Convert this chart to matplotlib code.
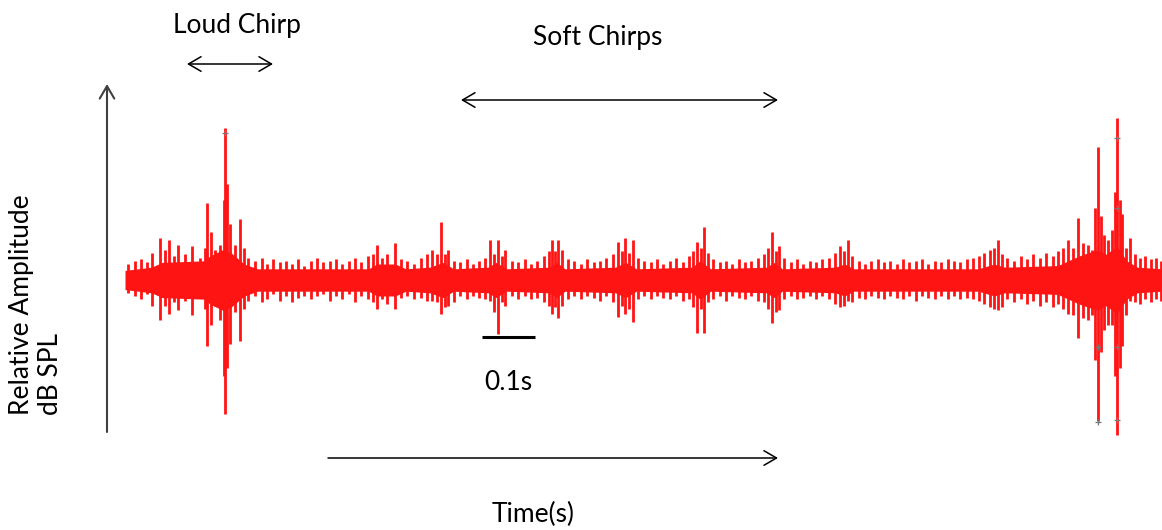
import numpy as np
import matplotlib
matplotlib.use("Agg")
import matplotlib.pyplot as plt

plt.rcParams['font.family'] = ['Lato', 'DejaVu Sans']

# waveform: time in ms, amplitude relative (1.0 = biggest peak)
spike_t = [5, 18, 30, 42, 51,
           66, 75, 83, 92, 100, 113, 126, 142, 150, 155, 162, 170, 180, 186, 189, 193, 198, 208, 217, 224, 232,
           245, 258, 268, 280, 292, 303, 315, 327, 338, 350, 362, 374, 386, 398, 410, 422, 434, 446, 458,
           467, 475, 485, 494, 509, 520, 533, 545, 558, 569,
           579, 589, 596, 603, 609, 620, 632, 645, 657, 668, 680,
           689, 697, 704, 711, 717, 730, 742, 754, 766, 778, 790,
           800, 806, 812, 817, 825, 835, 848, 860, 872, 884, 896, 908, 920,
           930, 937, 943, 950, 958, 968, 980, 992, 1004, 1016, 1028, 1040, 1052, 1064,
           1072, 1079, 1086, 1092, 1100, 1110, 1122, 1134, 1146, 1158, 1170, 1182, 1194, 1206,
           1214, 1221, 1228, 1234, 1244, 1256, 1268, 1280, 1292, 1304, 1316, 1328, 1340,
           1349, 1356, 1364, 1372, 1384, 1396, 1408, 1420, 1432, 1444, 1456, 1468, 1480, 1492, 1504, 1516,
           1528, 1540, 1552, 1564, 1576, 1588, 1600, 1612,
           1620, 1632, 1640, 1647, 1655, 1665, 1678, 1690, 1702, 1714, 1726, 1738, 1750, 1760, 1770,
           1779, 1788, 1798, 1808, 1817, 1825, 1831, 1836, 1841, 1847, 1855, 1862, 1868, 1872, 1877, 1881,
           1888, 1896, 1905, 1915, 1925, 1935, 1945, 1955]
spike_up = [0.10, 0.12, 0.13, 0.11, 0.17,
            0.26, 0.19, 0.25, 0.15, 0.22, 0.16, 0.21, 0.14, 0.20, 0.48, 0.30, 0.19, 0.22, 0.50, 0.95, 0.60, 0.35, 0.22, 0.38, 0.20, 0.14,
            0.12, 0.14, 0.10, 0.13, 0.11, 0.12, 0.10, 0.13, 0.09, 0.12, 0.14, 0.11, 0.12, 0.13, 0.10, 0.12, 0.14, 0.11, 0.15,
            0.16, 0.22, 0.14, 0.16, 0.23, 0.13, 0.12, 0.10, 0.14, 0.16,
            0.19, 0.16, 0.36, 0.16, 0.19, 0.12, 0.11, 0.13, 0.10, 0.12, 0.14,
            0.25, 0.16, 0.25, 0.15, 0.19, 0.12, 0.11, 0.13, 0.10, 0.12, 0.15,
            0.18, 0.25, 0.18, 0.25, 0.19, 0.13, 0.12, 0.10, 0.13, 0.11, 0.12, 0.14, 0.16,
            0.24, 0.18, 0.26, 0.17, 0.25, 0.14, 0.12, 0.11, 0.13, 0.10, 0.12, 0.14, 0.11, 0.15,
            0.18, 0.24, 0.20, 0.33, 0.17, 0.13, 0.11, 0.12, 0.10, 0.13, 0.11, 0.12, 0.14, 0.16,
            0.20, 0.30, 0.18, 0.21, 0.14, 0.11, 0.13, 0.10, 0.12, 0.11, 0.13, 0.14, 0.17,
            0.21, 0.18, 0.25, 0.15, 0.12, 0.10, 0.12, 0.13, 0.11, 0.12, 0.10, 0.13, 0.11, 0.12, 0.13, 0.10,
            0.12, 0.11, 0.13, 0.12, 0.11, 0.13, 0.14, 0.15,
            0.17, 0.19, 0.20, 0.25, 0.16, 0.14, 0.12, 0.15, 0.13, 0.16, 0.14, 0.17, 0.15, 0.18, 0.20,
            0.25, 0.20, 0.39, 0.23, 0.22, 0.19, 0.45, 0.83, 0.40, 0.28, 0.25, 0.31, 0.55, 1.01, 0.50, 0.41,
            0.20, 0.26, 0.16, 0.14, 0.15, 0.13, 0.14, 0.12]
spike_down = [0.08, 0.10, 0.12, 0.09, 0.16,
              0.25, 0.16, 0.21, 0.14, 0.19, 0.13, 0.22, 0.11, 0.18, 0.41, 0.28, 0.16, 0.25, 0.60, 0.84, 0.55, 0.40, 0.20, 0.38, 0.18, 0.13,
              0.10, 0.14, 0.12, 0.09, 0.13, 0.10, 0.14, 0.11, 0.10, 0.12, 0.10, 0.09, 0.13, 0.10, 0.12, 0.09, 0.14, 0.10, 0.12,
              0.14, 0.18, 0.12, 0.15, 0.18, 0.11, 0.10, 0.12, 0.11, 0.13,
              0.13, 0.14, 0.21, 0.17, 0.16, 0.14, 0.10, 0.12, 0.10, 0.11, 0.12,
              0.13, 0.20, 0.34, 0.14, 0.16, 0.10, 0.12, 0.10, 0.12, 0.11, 0.14,
              0.16, 0.21, 0.17, 0.24, 0.16, 0.12, 0.10, 0.12, 0.10, 0.11, 0.13, 0.10, 0.14,
              0.23, 0.16, 0.21, 0.18, 0.26, 0.12, 0.10, 0.12, 0.10, 0.11, 0.12, 0.10, 0.13, 0.12,
              0.17, 0.33, 0.18, 0.33, 0.14, 0.12, 0.10, 0.13, 0.10, 0.11, 0.12, 0.10, 0.13, 0.14,
              0.18, 0.27, 0.20, 0.19, 0.12, 0.10, 0.12, 0.11, 0.10, 0.12, 0.10, 0.12, 0.15,
              0.17, 0.16, 0.13, 0.14, 0.11, 0.12, 0.10, 0.11, 0.12, 0.10, 0.11, 0.12, 0.10, 0.13, 0.10, 0.11,
              0.12, 0.10, 0.12, 0.10, 0.12, 0.11, 0.12, 0.13,
              0.15, 0.17, 0.18, 0.19, 0.17, 0.12, 0.14, 0.12, 0.15, 0.13, 0.16, 0.14, 0.17, 0.15, 0.18,
              0.21, 0.22, 0.36, 0.24, 0.25, 0.22, 0.50, 0.88, 0.45, 0.31, 0.28, 0.28, 0.60, 0.97, 0.55, 0.41,
              0.22, 0.13, 0.14, 0.15, 0.12, 0.14, 0.12, 0.13]

# dense core of the trace (half width)
core_t = [0, 50, 70, 150, 160, 185, 200, 225, 250, 460, 475, 510, 530, 575, 600, 620, 685, 700, 720,
          800, 815, 830, 925, 945, 965, 1070, 1085, 1105, 1210, 1225, 1240, 1340, 1358, 1375,
          1610, 1640, 1660, 1760, 1780, 1800, 1835, 1850, 1872, 1890, 1910, 1957]
core_half = [0.06, 0.08, 0.11, 0.12, 0.15, 0.19, 0.17, 0.10, 0.07, 0.07, 0.10, 0.10, 0.07, 0.08, 0.11, 0.07, 0.08, 0.11, 0.07,
             0.08, 0.11, 0.07, 0.08, 0.11, 0.07, 0.08, 0.12, 0.07, 0.08, 0.11, 0.07, 0.08, 0.10, 0.07,
             0.07, 0.10, 0.08, 0.09, 0.12, 0.15, 0.19, 0.16, 0.21, 0.12, 0.08, 0.07]

# grey "+" cursor marks on the big peaks
mark_t = [189, 1836, 1836, 1872, 1872, 1872, 1872]
mark_amp = [0.92, -0.42, -0.89, 0.89, 0.45, -0.42, -0.875]

scale_bar_start = 674  # ms
scale_bar_len = 100    # ms = 0.1 s

fig = plt.figure(figsize=(11.62, 5.30), dpi=100)

# annotation layer in pixel coords
ov = fig.add_axes([0, 0, 1, 1])
ov.set_xlim(0, 1162)
ov.set_ylim(530, 0)
ov.axis('off')

# waveform axes
ax = fig.add_axes([125 / 1162, 70 / 530, 1037 / 1162, 360 / 530])
ax.set_xlim(0, 1956.6)
ax.set_ylim(-1.125, 1.125)
ax.axis('off')

red = '#ff1414'
ax.fill_between(core_t, [-v for v in core_half], core_half, color=red, lw=0)
ax.vlines(spike_t, [-v for v in spike_down], spike_up, color=red, lw=2.0)
ax.plot(mark_t, mark_amp, '+', color='#777777', ms=5, mew=0.9)

# scale bar
ax.plot([scale_bar_start, scale_bar_start + scale_bar_len], [-0.356, -0.356], color='black', lw=2.2,
        solid_capstyle='butt')

txt = dict(fontsize=19, color='black', ha='center', va='center')
ov.text(237, 25, 'Loud Chirp', **txt)
ov.text(598, 38, 'Soft Chirps', **txt)
ov.text(508, 383, '0.1s', **txt)
ov.text(533, 514, 'Time(s)', **txt)
ov.text(22, 415, 'Relative Amplitude', rotation=90, fontsize=19, ha='center', va='bottom')
ov.text(51, 415, 'dB SPL', rotation=90, fontsize=19, ha='center', va='bottom')


def arrow(x0, y0, x1, y1, style='->', color='black', lw=1.1):
    ov.annotate('', xy=(x1, y1), xytext=(x0, y0),
                arrowprops=dict(arrowstyle=f'{style},head_length=0.6,head_width=0.35',
                                color=color, lw=lw, shrinkA=0, shrinkB=0, mutation_scale=15))


arrow(187, 64, 273, 64, '<->')
arrow(461, 100, 778, 100, '<->')
arrow(328, 458, 778, 458)
arrow(107, 432, 107, 84, color='#404040', lw=1.5)

fig.savefig('out.png', dpi=100)
